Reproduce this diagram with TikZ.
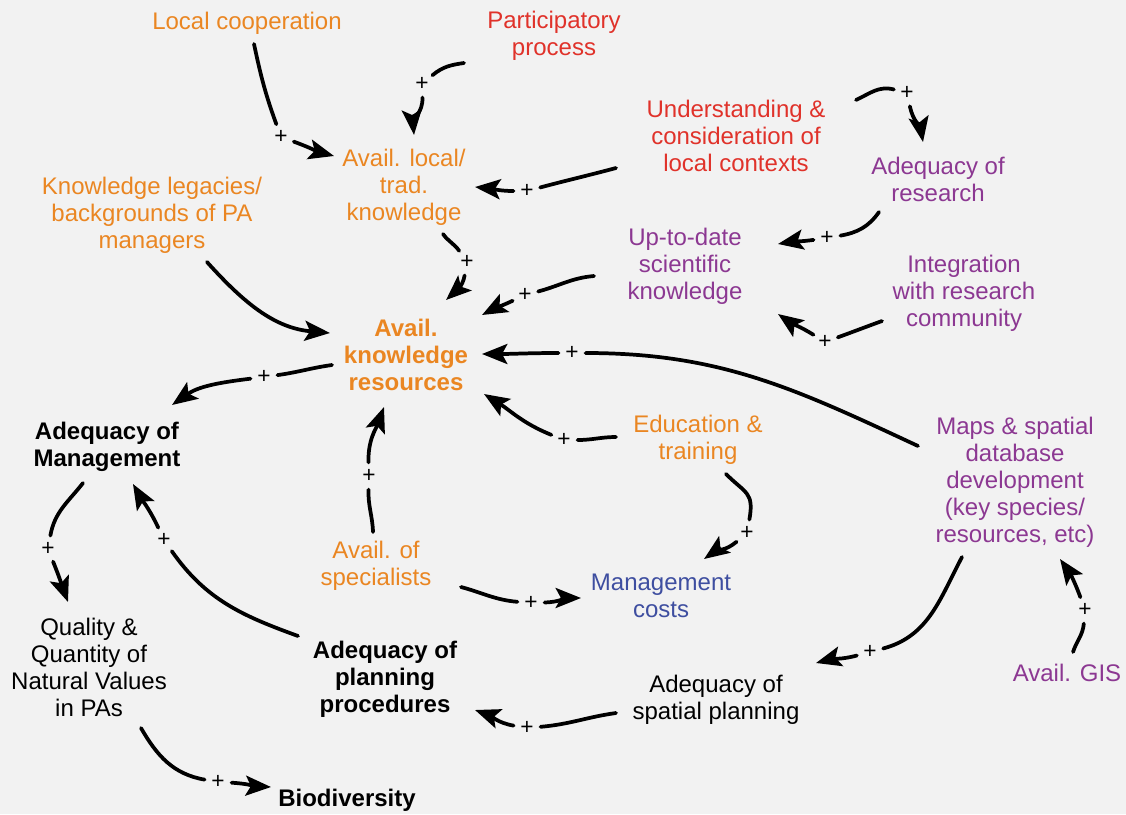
\documentclass[tikz,border=0pt]{standalone}
\usepackage{fontspec}
\setmainfont{Liberation Sans}
\usepackage{xcolor}
\usetikzlibrary{arrows.meta}

\definecolor{bgcol}{HTML}{F2F2F2}
\definecolor{orng}{HTML}{EA8622}
\definecolor{rd}{HTML}{E0322A}
\definecolor{purp}{HTML}{8C3892}
\definecolor{blu}{HTML}{3E4EA0}

\begin{document}
\begin{tikzpicture}[
        x=0.75pt, y=0.75pt,
        >={Stealth[length=19pt, width=15pt, inset=4pt]},
        concept/.style={align=center, inner sep=2pt,
            font=\fontsize{18}{20.25}\selectfont},
        orgtext/.style={concept, text=orng},
        redtext/.style={concept, text=rd},
        purtext/.style={concept, text=purp},
        blutext/.style={concept, text=blu},
        blktext/.style={concept, text=black},
        key/.style={font=\fontsize{18}{20.25}\selectfont\bfseries},
        plus/.style={circle, inner sep=0pt, minimum size=20pt,
            font=\fontsize{17}{17}\selectfont},
        link/.style={line width=2.8pt, line cap=round},
    ]

    \useasboundingbox (0,0) rectangle (1126,-814);
    \fill[bgcol] (0,0) rectangle (1126,-814);

    % 1. Knowledge side
    \node[orgtext] (lc) at (247,-23) {Local cooperation};
    \node[redtext] (pp) at (554,-36) {Participatory\\process};
    \node[orgtext] (alt) at (404,-187) {Avail. local/\\trad.\\knowledge};
    \node[redtext] (uc) at (736,-136)
        {Understanding \&\\consideration of\\local contexts};
    \node[purtext] (ar) at (938,-179) {Adequacy of\\research};
    \node[orgtext] (kl) at (152,-215)
        {Knowledge legacies/\\backgrounds of PA\\managers};
    \node[purtext] (utd) at (685,-266) {Up-to-date\\scientific\\knowledge};
    \node[purtext] (irc) at (964,-293) {Integration\\with research\\community};
    \node[orgtext, key] (akr) at (406,-355) {Avail.\\knowledge\\resources};

    % 2. Management side
    \node[blktext, key] (am) at (107,-447) {Adequacy of\\Management};
    \node[orgtext] (edu) at (698,-440) {Education \&\\training};
    \node[purtext] (maps) at (1015,-482)
        {Maps \& spatial\\database\\development\\(key species/\\resources, etc)};
    \node[orgtext] (asp) at (376,-566) {Avail. of\\specialists};
    \node[blutext] (mc) at (661,-596) {Management\\costs};
    \node[blktext] (qq) at (89,-667)
        {Quality \&\\Quantity of\\Natural Values\\in PAs};
    \node[blktext, key] (app) at (385,-679) {Adequacy of\\planning\\procedures};
    \node[blktext] (aspl) at (716,-700) {Adequacy of\\spatial planning};
    \node[purtext] (gis) at (1067,-673) {Avail. GIS};
    \node[blktext, key] (bio) at (347,-800) {Biodiversity};

    % 3. Polarity signs
    \node[plus] (p1) at (281,-137) {+};
    \node[plus] (p2) at (422,-84) {+};
    \node[plus] (p3) at (527,-191) {+};
    \node[plus] (p4) at (907,-93) {+};
    \node[plus] (p5) at (827,-238) {+};
    \node[plus] (p6) at (825,-342) {+};
    \node[plus] (p7) at (525,-295) {+};
    \node[plus] (p8) at (467,-262) {+};
    \node[plus] (p10) at (572,-353) {+};
    \node[plus] (p11) at (264,-377) {+};
    \node[plus] (p12) at (564,-440) {+};
    \node[plus] (p13) at (369,-476) {+};
    \node[plus] (p14) at (531,-603) {+};
    \node[plus] (p15) at (747,-533) {+};
    \node[plus] (p16) at (870,-652) {+};
    \node[plus] (p17) at (1085,-610) {+};
    \node[plus] (p18) at (527,-728) {+};
    \node[plus] (p19) at (164,-540) {+};
    \node[plus] (p20) at (48,-549) {+};
    \node[plus] (p21) at (218,-782) {+};

    % --- Links ---
    \draw[link] ([shift={(7,-21)}]lc.center) to[out=-78,in=110] (p1);
    \draw[link,->] (p1) to[out=-20,in=165] ([shift={(-70,31)}]alt.center);
    \draw[link] ([shift={(-90,-27)}]pp.center) to[out=188,in=40] (p2);
    \draw[link,->] (p2) to[out=-88,in=95] ([shift={(10,52)}]alt.center);
    \draw[link] ([shift={(-120,-32)}]uc.center) to[out=195,in=15] (p3);
    \draw[link,->] (p3) to[out=180,in=-5] ([shift={(71,0)}]alt.center);
    \draw[link] ([shift={(120,36)}]uc.center) to[out=25,in=165] (p4);
    \draw[link,->] (p4) to[out=-78,in=100] ([shift={(-15,37)}]ar.center);
    \draw[link] ([shift={(-59,-33)}]ar.center) to[out=-125,in=10] (p5);
    \draw[link,->] (p5) to[out=188,in=10] ([shift={(93,22)}]utd.center);
    \draw[link] ([shift={(-82,-28)}]irc.center) to[out=200,in=20] (p6);
    \draw[link,->] (p6) to[out=148,in=-35] ([shift={(93,-48)}]utd.center);
    \draw[link] ([shift={(-91,-10)}]utd.center) to[out=185,in=15] (p7);
    \draw[link,->] (p7) to[out=205,in=28] ([shift={(76,40)}]akr.center);
    \draw[link] ([shift={(39,-47)}]alt.center) to[out=-55,in=125] (p8);
    \draw[link,->] (p8) to[out=-100,in=42] ([shift={(40,55)}]akr.center);
    \draw[link,->] ([shift={(55,-47)}]kl.center)
        to[out=-48,in=175] ([shift={(-76,22)}]akr.center);
    \draw[link] ([shift={(-97,36)}]maps.center) to[out=155,in=0] (p10);
    \draw[link,->] (p10) to[out=180,in=0] ([shift={(76,1)}]akr.center);
    \draw[link] ([shift={(-74,-10)}]akr.center) to[out=188,in=8] (p11);
    \draw[link,->] (p11) to[out=187,in=35] ([shift={(65,42)}]am.center);
    \draw[link] ([shift={(-82,3)}]edu.center) to[out=180,in=0] (p12);
    \draw[link,->] (p12) to[out=158,in=-32] ([shift={(78,-39)}]akr.center);
    \draw[link] ([shift={(-3,34)}]asp.center) to[out=92,in=-92] (p13);
    \draw[link,->] (p13) to[out=92,in=-110] ([shift={(-22,-52)}]akr.center);
    \draw[link] ([shift={(85,-21)}]asp.center) to[out=-15,in=175] (p14);
    \draw[link,->] (p14) to[out=2,in=180] ([shift={(-80,-2)}]mc.center);
    \draw[link] ([shift={(28,-34)}]edu.center)
        to[out=-45,in=80,looseness=1.4] (p15);
    \draw[link,->] (p15) to[out=-140,in=35] ([shift={(43,37)}]mc.center);
    \draw[link] ([shift={(-53,-75)}]maps.center) to[out=-118,in=15] (p16);
    \draw[link,->] (p16) to[out=195,in=15] ([shift={(100,37)}]aspl.center);
    \draw[link] ([shift={(6,21)}]gis.center) to[out=72,in=-95] (p17);
    \draw[link,->] (p17) to[out=110,in=-55] ([shift={(45,-77)}]maps.center);
    \draw[link] ([shift={(-100,-13)}]aspl.center) to[out=188,in=5] (p18);
    \draw[link,->] (p18) to[out=170,in=-20] ([shift={(90,-31)}]app.center);
    \draw[link] ([shift={(-87,43)}]app.center) to[out=160,in=-55] (p19);
    \draw[link,->] (p19) to[out=115,in=-60] ([shift={(26,-37)}]am.center);
    \draw[link] ([shift={(-24,-36)}]am.center) to[out=-128,in=80] (p20);
    \draw[link,->] (p20) to[out=-68,in=110] ([shift={(-21,65)}]qq.center);
    \draw[link] ([shift={(52,-61)}]qq.center) to[out=-60,in=170] (p21);
    \draw[link,->] (p21) to[out=-3,in=177] ([shift={(-76,13)}]bio.center);

\end{tikzpicture}
\end{document}
